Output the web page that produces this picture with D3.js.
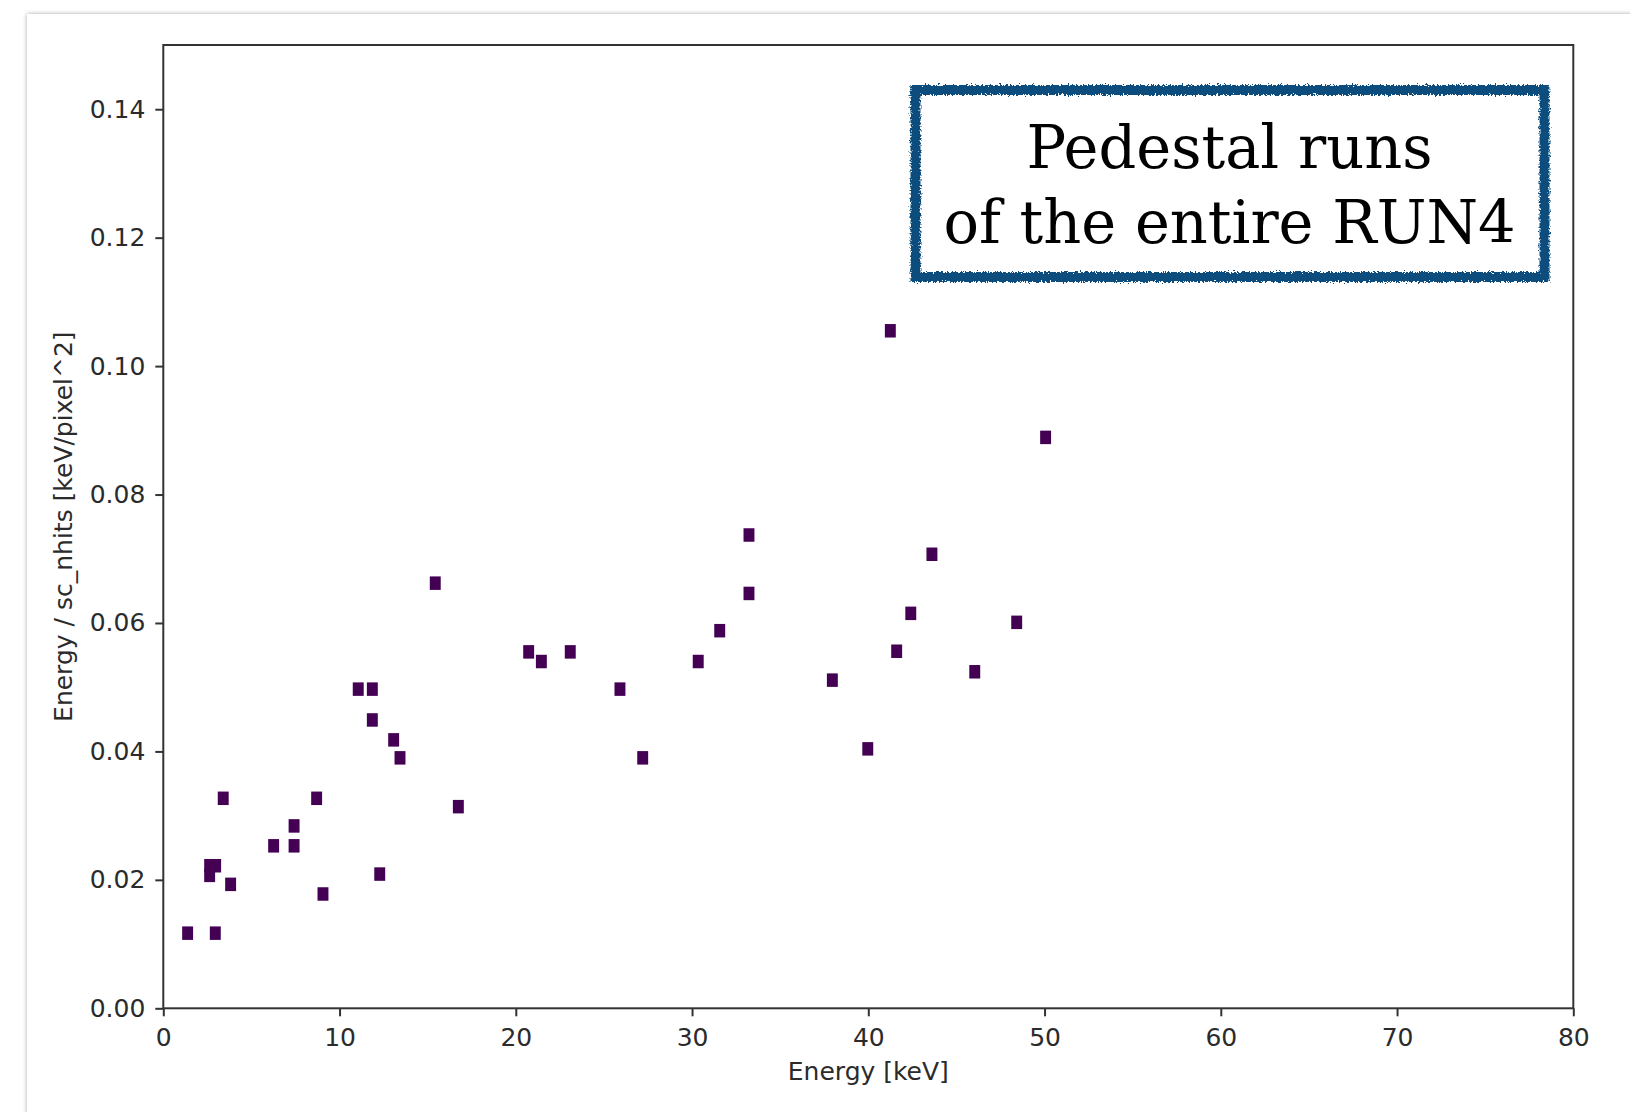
<!DOCTYPE html>
<html>
<head>
<meta charset="utf-8">
<script src="https://cdn.jsdelivr.net/npm/d3@7"></script>
<style>
  html, body { margin: 0; padding: 0; background: #ffffff; }
  svg { display: block; }
  .tick text { font-family: "DejaVu Sans", sans-serif; }
</style>
</head>
<body>
<svg id="chart" width="1630" height="1112"></svg>
<script>
// Energy [keV] of each selected cluster
const energy = [1.38, 2.95, 2.63, 2.97, 2.63, 3.82, 3.40, 6.26, 7.42, 7.42,
  8.70, 9.06, 11.06, 11.86, 11.86, 13.07, 13.43, 12.28, 15.43, 16.74,
  20.73, 21.45, 23.09, 25.91, 27.20, 30.35, 31.57, 33.23, 33.23, 37.96,
  39.97, 41.25, 41.61, 42.41, 43.61, 46.04, 48.42, 50.06];

// Energy / sc_nhits [keV/pixel^2] of the same clusters
const energyPerHit = [0.0117, 0.0117, 0.0222, 0.0222, 0.0207, 0.0193, 0.0327, 0.0253, 0.0253, 0.0284,
  0.0327, 0.0178, 0.0497, 0.0497, 0.0449, 0.0418, 0.0390, 0.0209, 0.0662, 0.0314,
  0.0555, 0.0540, 0.0555, 0.0497, 0.0390, 0.0540, 0.0588, 0.0737, 0.0646, 0.0511,
  0.0404, 0.1055, 0.0556, 0.0615, 0.0707, 0.0524, 0.0601, 0.0889];

const xTicks = [0, 10, 20, 30, 40, 50, 60, 70, 80];
const yTicks = [0.00, 0.02, 0.04, 0.06, 0.08, 0.10, 0.12, 0.14];
const xDomain = [0, 80];
const yDomain = [0, 0.15];

const xLabel = "Energy [keV]";
const yLabel = "Energy / sc_nhits [keV/pixel^2]";
const noteLines = ["Pedestal runs", "of the entire RUN4"];

// histogram cell size in data units
const cellW = 0.62;
const cellH = 0.0021;

const svg = d3.select("#chart");
const defs = svg.append("defs");

// soft shadow for the page card
const shadow = defs.append("filter").attr("id", "cardShadow")
  .attr("x", "-5%").attr("y", "-5%").attr("width", "110%").attr("height", "110%");
shadow.append("feDropShadow").attr("dx", 0).attr("dy", 0)
  .attr("stdDeviation", 2).attr("flood-color", "#000").attr("flood-opacity", 0.35);

// rough, hand-stamped edge for the note frame
const rough = defs.append("filter").attr("id", "roughEdge")
  .attr("x", "-5%").attr("y", "-10%").attr("width", "110%").attr("height", "120%");
rough.append("feTurbulence").attr("type", "fractalNoise")
  .attr("baseFrequency", 0.6).attr("numOctaves", 2).attr("seed", 3).attr("result", "noise");
rough.append("feDisplacementMap").attr("in", "SourceGraphic").attr("in2", "noise")
  .attr("scale", 6).attr("xChannelSelector", "R").attr("yChannelSelector", "G");

svg.append("rect")
  .attr("x", 27).attr("y", 14).attr("width", 1700).attr("height", 1200)
  .attr("fill", "#ffffff").attr("filter", "url(#cardShadow)");

const plot = { left: 163.3, top: 45, width: 1410, height: 963.3 };

const x = d3.scaleLinear().domain(xDomain).range([plot.left, plot.left + plot.width]);
const y = d3.scaleLinear().domain(yDomain).range([plot.top + plot.height, plot.top]);

const axisColor = "#333333";
const textColor = "#2b2b2b";

// histogram cells
const cw = x(cellW) - x(0);
const ch = y(0) - y(cellH);
svg.append("g").selectAll("rect")
  .data(energy.map((e, i) => [e, energyPerHit[i]]))
  .join("rect")
  .attr("x", d => x(d[0]) - cw / 2)
  .attr("y", d => y(d[1]) - ch / 2)
  .attr("width", cw)
  .attr("height", ch)
  .attr("fill", "#440154");

// axes
const gx = svg.append("g")
  .attr("transform", `translate(0,${plot.top + plot.height})`)
  .call(d3.axisBottom(x).tickValues(xTicks).tickFormat(d3.format("d"))
    .tickSize(8).tickPadding(12).tickSizeOuter(0));
const gy = svg.append("g")
  .attr("transform", `translate(${plot.left},0)`)
  .call(d3.axisLeft(y).tickValues(yTicks).tickFormat(d3.format(".2f"))
    .tickSize(8).tickPadding(10).tickSizeOuter(0));

[gx, gy].forEach(g => {
  g.select(".domain").remove();
  g.selectAll(".tick line").attr("stroke", axisColor).attr("stroke-width", 2);
  g.selectAll(".tick text").attr("fill", textColor).style("font-size", "25px");
});

// frame
svg.append("rect")
  .attr("x", plot.left).attr("y", plot.top)
  .attr("width", plot.width).attr("height", plot.height)
  .attr("fill", "none").attr("stroke", axisColor).attr("stroke-width", 2);

// axis titles
svg.append("text")
  .attr("x", plot.left + plot.width / 2).attr("y", 1080)
  .attr("text-anchor", "middle")
  .attr("font-family", "DejaVu Sans, sans-serif").attr("font-size", 25)
  .attr("fill", textColor).text(xLabel);

svg.append("text")
  .attr("transform", `translate(72,${plot.top + plot.height / 2}) rotate(-90)`)
  .attr("text-anchor", "middle")
  .attr("font-family", "DejaVu Sans, sans-serif").attr("font-size", 25)
  .attr("fill", textColor).text(yLabel);

// note frame with its caption
const note = svg.append("g");
note.append("rect")
  .attr("x", 915.5).attr("y", 90).attr("width", 629).attr("height", 187)
  .attr("fill", "#ffffff").attr("stroke", "#0c4e7e").attr("stroke-width", 10)
  .attr("filter", "url(#roughEdge)");

note.selectAll("text.note")
  .data(noteLines)
  .join("text")
  .attr("class", "note")
  .attr("x", 1229.5)
  .attr("y", (d, i) => 168 + i * 75)
  .attr("text-anchor", "middle")
  .attr("font-family", "DejaVu Serif, serif")
  .attr("font-size", 59)
  .attr("fill", "#000")
  .text(d => d);
</script>
</body>
</html>
